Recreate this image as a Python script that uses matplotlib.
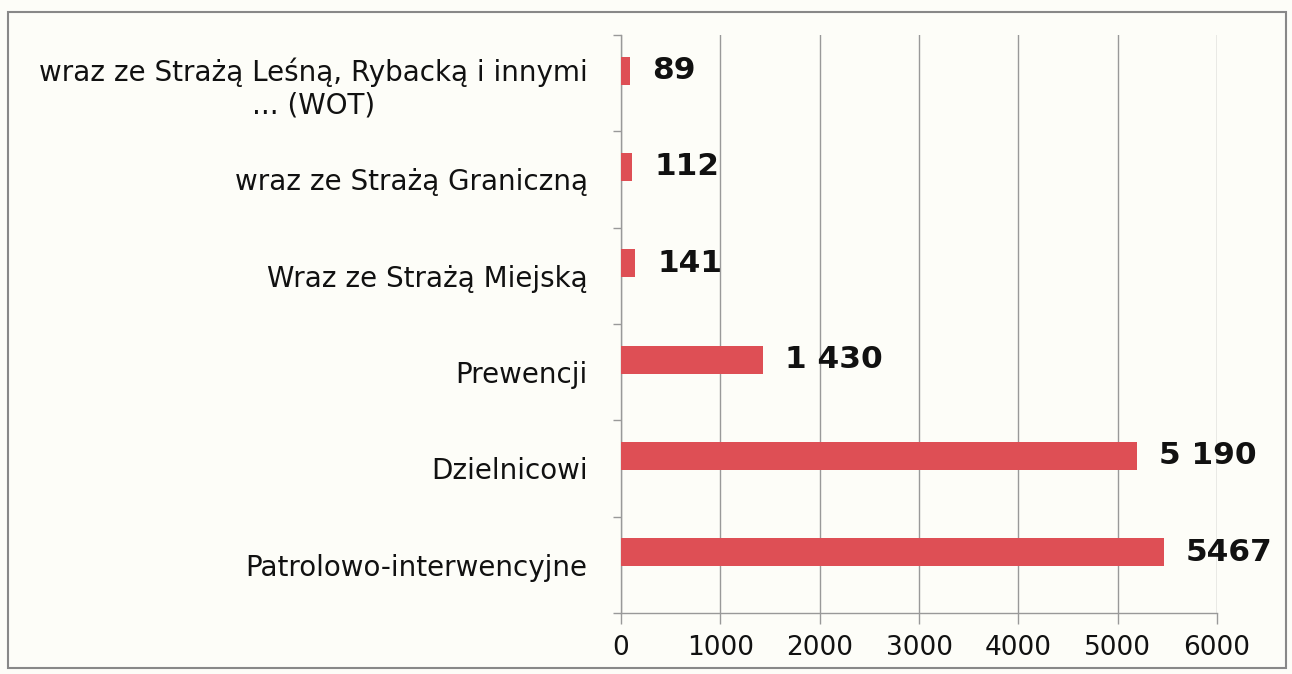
import matplotlib
matplotlib.use("Agg")
import matplotlib.pyplot as plt
from matplotlib.patches import Rectangle

categories = [
    "Patrolowo-interwencyjne",
    "Dzielnicowi",
    "Prewencji",
    "Wraz ze Strażą Miejską",
    "wraz ze Strażą Graniczną",
    "wraz ze Strażą Leśną, Rybacką i innymi\n... (WOT)",
]
values = [5467, 5190, 1430, 141, 112, 89]
value_labels = ["5467", "5 190", "1 430", "141", "112", "89"]
xticks = [0, 1000, 2000, 3000, 4000, 5000, 6000]

plt.rcParams['font.family'] = ['DejaVu Sans']

fig = plt.figure(figsize=(12.92, 6.74), dpi=100)
fig.patch.set_facecolor('#fdfdf8')
ax = fig.add_axes([0.4807, 0.0905, 0.4613, 0.8576])
ax.set_facecolor('none')

bar_color = '#de4f55'
pos = list(range(len(categories)))
ax.barh([p + 0.13 for p in pos], values, height=0.29, color=bar_color, zorder=3)

for p, v, lab in zip(pos, values, value_labels):
    ax.annotate(lab, xy=(v, p + 0.13), xytext=(22, 0), textcoords='offset pixels',
                ha='left', va='center', fontsize=22.5, fontweight='bold',
                color='#111111')

ax.set_xlim(0, 6000)
ax.set_ylim(-0.5, len(categories) - 0.5)
ax.set_xticks(xticks)
ax.set_xticklabels([str(t) for t in xticks], fontsize=19, color='#111111')
ax.set_yticks(pos)
ax.set_yticklabels(categories, fontsize=20, color='#111111', multialignment='center')
ax.tick_params(axis='y', which='major', length=0, pad=24)
ax.set_yticks([p - 0.5 for p in pos] + [len(categories) - 0.5], minor=True)
ax.tick_params(axis='y', which='minor', length=6, color='#999999', width=1)
ax.tick_params(axis='x', which='major', length=8, color='#999999', width=1, pad=8)

ax.grid(axis='x', color='#999999', linewidth=1, zorder=0)
for s in ['top', 'right']:
    ax.spines[s].set_visible(False)
for s in ['left', 'bottom']:
    ax.spines[s].set_color('#999999')
    ax.spines[s].set_linewidth(1)

fig.patches.append(Rectangle((8 / 1292, 6 / 674), 1278 / 1292, 656 / 674,
                             transform=fig.transFigure, fill=False,
                             edgecolor='#888888', linewidth=1.5))

fig.savefig('out.png', dpi=100, facecolor=fig.get_facecolor())
